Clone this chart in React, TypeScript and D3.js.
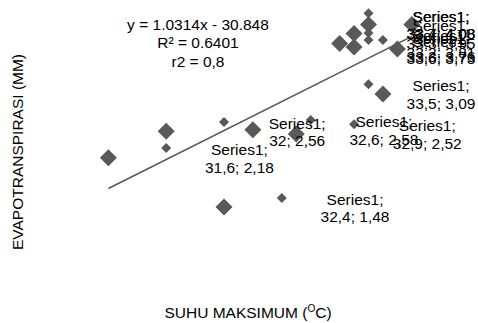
import React from "react";
import * as d3 from "d3";

// Series1 (large diamonds, labelled): suhu maksimum (°C) and evapotranspirasi (mm)
const suhu1 = [31.6, 32.0, 32.4, 32.6, 32.9, 33.5, 33.4, 33.7, 33.3, 33.2, 33.3, 33.6];
const evapo1 = [2.18, 2.56, 1.48, 2.58, 2.52, 3.09, 4.08, 4.08, 3.95, 3.81, 3.76, 3.73];

// second group (small diamonds)
const suhu2 = [32.0, 32.4, 33.0, 32.8, 33.3, 33.4, 33.4, 33.4, 33.4, 33.5];
const evapo2 = [2.32, 2.69, 2.72, 1.61, 2.66, 3.23, 4.24, 3.96, 3.86, 3.86];

const slope = 1.0314;
const intercept = -30.848;
const eqLines = ["y = 1.0314x - 30.848", "R² = 0.6401", "r2 = 0,8"];
const seriesName = "Series1";
const xTitle = "SUHU MAKSIMUM (";
const yTitle = "EVAPOTRANSPIRASI (MM)";

const fmt = (v: number) => String(v).replace(".", ",");

export default function App() {
  const W = 478;
  const H = 323;
  const x = d3.scaleLinear().domain([31.5, 33.7]).range([93.95, 411.85]);
  const y = d3.scaleLinear().domain([1, 4]).range([240.7, 30.1]);
  const color = "#595959";
  const font = "'Liberation Sans', Arial, sans-serif";

  const xMin = d3.min(suhu1) as number;
  const xMax = d3.max(suhu1) as number;
  const line = d3.line<number>()
    .x((d) => x(d))
    .y((d) => y(slope * d + intercept));

  const diamond = (cx: number, cy: number, r: number) =>
    `M${cx},${cy - r}L${cx + r},${cy}L${cx},${cy + r}L${cx - r},${cy}Z`;

  return (
    <svg width={W} height={H} style={{ position: "absolute", left: 0, top: 0 }} fontFamily={font}>
      <rect width={W} height={H} fill="#fff" />
      <path d={line([xMin, xMax]) as string} stroke={color} strokeWidth={1.6} fill="none" />
      {suhu2.map((v, i) => (
        <path key={"s" + i} d={diamond(x(v), y(evapo2[i]), 5)} fill={color} />
      ))}
      {suhu1.map((v, i) => (
        <path key={"l" + i} d={diamond(x(v), y(evapo1[i]), 8.5)} fill={color} />
      ))}
      {suhu1.map((v, i) => {
        const lx = Math.min(x(v) + 131, 441);
        const ly = Math.max(y(evapo1[i]) - 8, 13);
        return (
          <text key={"t" + i} x={lx} textAnchor="middle" fontSize={15.5} fill="#000">
            <tspan x={lx} y={ly} dominantBaseline="central">{seriesName};</tspan>
            <tspan x={lx} y={ly + 17.5} dominantBaseline="central">{fmt(v)}; {fmt(evapo1[i])}</tspan>
          </text>
        );
      })}
      <text textAnchor="middle" fontSize={15.5} fill="#000">
        {eqLines.map((t, i) => (
          <tspan key={i} x={198} y={24 + i * 18.5} dominantBaseline="central">{t}</tspan>
        ))}
      </text>
      <text x={248} y={318} textAnchor="middle" fontSize={15.5} fill="#000">
        {xTitle}
        <tspan fontSize={10} dy={-6}>O</tspan>
        <tspan dy={6}>C)</tspan>
      </text>
      <text transform="translate(23,152) rotate(-90)" textAnchor="middle" fontSize={15.5} fill="#000">
        {yTitle}
      </text>
    </svg>
  );
}
